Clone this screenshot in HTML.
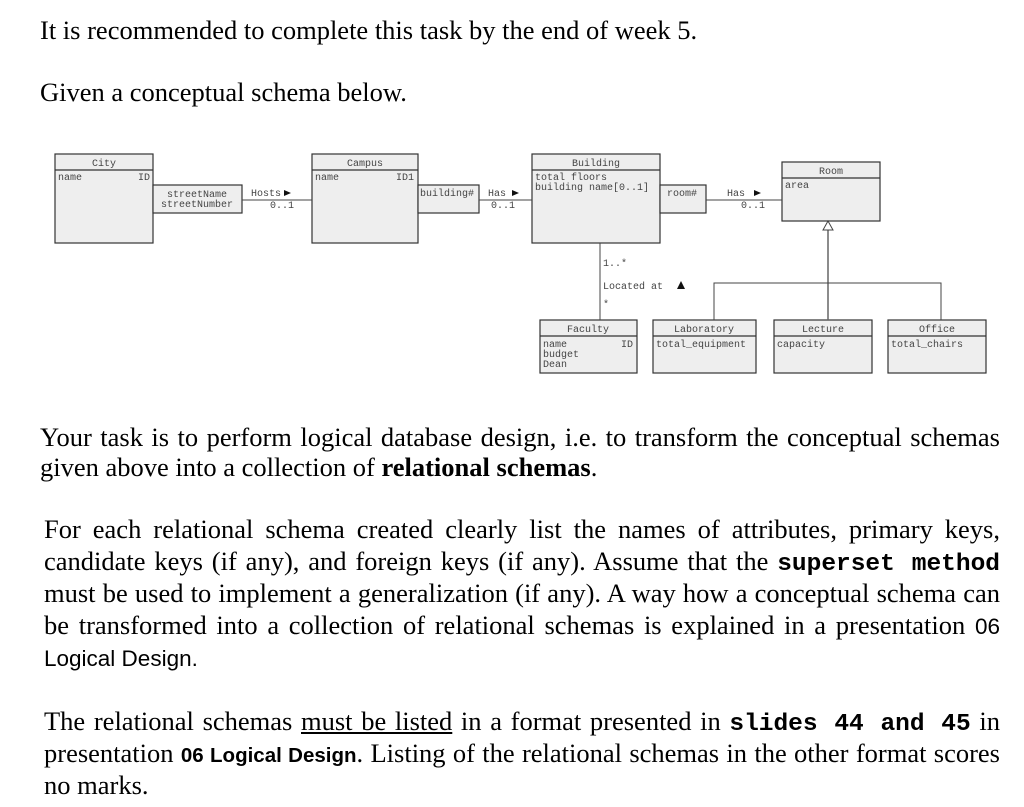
<!DOCTYPE html>
<html><head><meta charset="utf-8"><style>
body{margin:0;background:#fff;width:1024px;height:807px;position:relative;overflow:hidden;font-family:"Liberation Serif",serif;color:#000}
.t{position:absolute;font-size:26.5px;line-height:26px;white-space:nowrap}
.j{position:absolute;font-size:26.5px;line-height:26px;text-align:justify;text-align-last:justify;white-space:normal}
.m{font-family:"Liberation Mono",monospace;font-weight:bold;font-size:24.5px}
.s{font-family:"Liberation Sans",sans-serif;font-size:22.5px}
svg text{font-family:"Liberation Mono",monospace;font-size:10px;fill:#444}
</style></head><body>
<div class="t" style="left:40px;top:17px">It is recommended to complete this task by the end of week 5.</div>
<div class="t" style="left:40px;top:79px">Given a conceptual schema below.</div>

<svg style="position:absolute;left:0;top:0" width="1024" height="400">
<g stroke="#333" stroke-width="1.2" fill="#eee">
<rect x="55" y="154" width="98" height="89"/><line x1="55" y1="170" x2="153" y2="170"/>
<rect x="153" y="185" width="89" height="28"/>
<rect x="312" y="154" width="106" height="89"/><line x1="312" y1="170" x2="418" y2="170"/>
<rect x="418" y="185" width="61" height="28"/>
<rect x="532" y="154" width="128" height="89"/><line x1="532" y1="170" x2="660" y2="170"/>
<rect x="660" y="185" width="46" height="28"/>
<rect x="782" y="162" width="98" height="59"/><line x1="782" y1="178" x2="880" y2="178"/>
<rect x="540" y="320" width="97" height="53"/><line x1="540" y1="336" x2="637" y2="336"/>
<rect x="653" y="320" width="103" height="53"/><line x1="653" y1="336" x2="756" y2="336"/>
<rect x="774" y="320" width="98" height="53"/><line x1="774" y1="336" x2="872" y2="336"/>
<rect x="888" y="320" width="98" height="53"/><line x1="888" y1="336" x2="986" y2="336"/>
</g>
<g stroke="#444" stroke-width="1" fill="none">
<line x1="242" y1="200" x2="312" y2="200"/>
<line x1="479" y1="200" x2="532" y2="200"/>
<line x1="706" y1="200" x2="782" y2="200"/>
<line x1="600" y1="243" x2="600" y2="320"/>
<line x1="828" y1="230" x2="828" y2="320" stroke="#666" stroke-width="1.5"/>
<polyline points="714,320 714,283 941,283 941,320"/>
<polygon points="828,221 823,230 833,230" fill="#fff"/>
</g>
<g fill="#111">
<polygon points="284,190 291,193 284,196"/>
<polygon points="512,190 519,193 512,196"/>
<polygon points="754,190 761,193 754,196"/>
<polygon points="677,289 681,281 685,289"/>
</g>
<text x="104" y="166" text-anchor="middle">City</text>
<text x="58" y="180">name</text><text x="150" y="180" text-anchor="end">ID</text>
<text x="197" y="197" text-anchor="middle">streetName</text>
<text x="197" y="207" text-anchor="middle">streetNumber</text>
<text x="251" y="196">Hosts</text><text x="270" y="208">0..1</text>
<text x="365" y="166" text-anchor="middle">Campus</text>
<text x="315" y="180">name</text><text x="414" y="180" text-anchor="end">ID1</text>
<text x="420" y="196">building#</text>
<text x="488" y="196">Has</text><text x="491" y="208">0..1</text>
<text x="596" y="166" text-anchor="middle">Building</text>
<text x="535" y="180">total floors</text><text x="535" y="190">building name[0..1]</text>
<text x="667" y="196">room#</text>
<text x="727" y="196">Has</text><text x="741" y="208">0..1</text>
<text x="831" y="174" text-anchor="middle">Room</text>
<text x="785" y="188">area</text>
<text x="603" y="266">1..*</text>
<text x="603" y="289">Located at</text>
<text x="603" y="307">*</text>
<text x="588" y="332" text-anchor="middle">Faculty</text>
<text x="543" y="347">name</text><text x="633" y="347" text-anchor="end">ID</text>
<text x="543" y="357">budget</text><text x="543" y="367">Dean</text>
<text x="704" y="332" text-anchor="middle">Laboratory</text>
<text x="656" y="347">total_equipment</text>
<text x="823" y="332" text-anchor="middle">Lecture</text>
<text x="777" y="347">capacity</text>
<text x="937" y="332" text-anchor="middle">Office</text>
<text x="891" y="347">total_chairs</text>
</svg>

<div class="j" style="left:40px;top:424px;width:960px">Your task is to perform logical database design, i.e. to transform the conceptual schemas</div>
<div class="t" style="left:40px;top:454px">given above into a collection of <b>relational schemas</b>.</div>

<div class="j" style="left:44px;top:516px;width:956px">For each relational schema created clearly list the names of attributes, primary keys,</div>
<div class="j" style="left:44px;top:548px;width:956px">candidate keys (if any), and foreign keys (if any). Assume that the <span class="m">superset method</span></div>
<div class="j" style="left:44px;top:580px;width:956px">must be used to implement a generalization (if any). A way how a conceptual schema can</div>
<div class="j" style="left:44px;top:612px;width:956px">be transformed into a collection of relational schemas is explained in a presentation <span class="s">06</span></div>
<div class="t s" style="left:44px;top:646px">Logical Design.</div>

<div class="j" style="left:44px;top:708px;width:956px">The relational schemas <u>must be listed</u> in a format presented in <span class="m">slides 44 and 45</span> in</div>
<div class="j" style="left:44px;top:740px;width:956px;height:26px;overflow:visible">presentation <b class="s" style="font-size:20.5px">06 Logical Design</b>. Listing of the relational schemas in the other format&nbsp;scores</div>
<div class="t" style="left:44px;top:772px">no marks.</div>
</body></html>
